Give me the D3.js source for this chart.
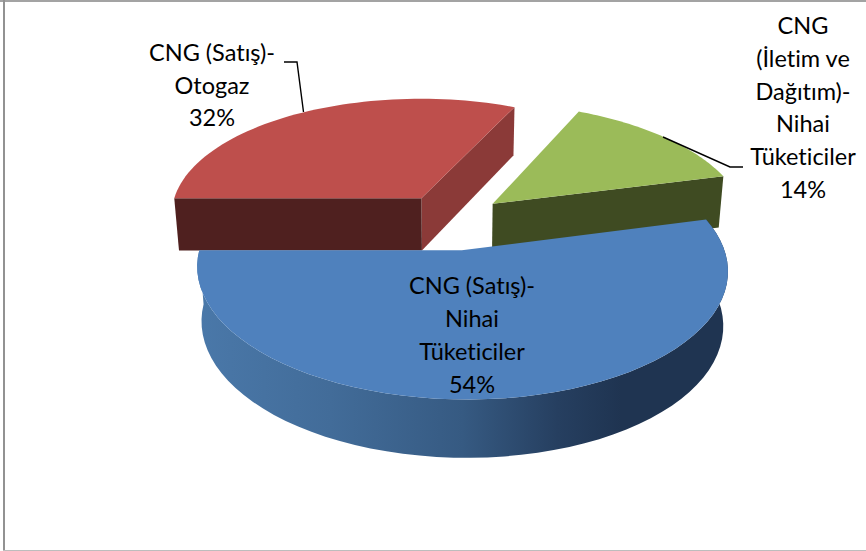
<!DOCTYPE html>
<html><head><meta charset="utf-8">
<script src="https://cdnjs.cloudflare.com/ajax/libs/d3/7.8.5/d3.min.js"></script>
<style>html,body{margin:0;padding:0;background:#fff;overflow:hidden}svg{display:block}text{font-family:Lato,"Open Sans",sans-serif;font-size:23.5px;fill:#000;text-anchor:middle;font-variant-ligatures:none;font-feature-settings:"liga" 0}</style>
</head><body><svg id="c" width="866" height="551"></svg>
<script>
const categories = ["CNG (Satış)-Nihai Tüketiciler","CNG (Satış)-Otogaz","CNG (İletim ve Dağıtım)-Nihai Tüketiciler"];
const values = [54,32,14];
const topColors = ["#4f81bd","#be4f4c","#9bbb59"];
const labelLines = [
  ["CNG (Satış)-","Nihai","Tüketiciler","54%"],
  ["CNG (Satış)-","Otogaz","32%"],
  ["CNG","(İletim ve","Dağıtım)-","Nihai","Tüketiciler","14%"]
];
const labelX = [472,212,803];
const labelY = [294,61,34];
const labelStep = [33,32.5,32.8];

const W=866,H=551;
const svg=d3.select("#c");
// projection of the tilted pie
const Cx=452,Cy=221.4,R=254,A=119.5,P=0.14,K=4,EXPLODE_U=0.21,EXPLODE_V=0.235;
const sliceNudge=[2,-2,1];
const rotation=75.6*Math.PI/180;
const pie=d3.pie().sort(null).startAngle(rotation).endAngle(rotation+2*Math.PI);
const arcs=pie(values);
const sx=d3.scaleLinear().domain([-1,1]).range([Cx-R,Cx+R]);
const sy=d3.scaleLinear().domain([-1,1]).range([Cy-A,Cy+A]);
function world(a,th,r){
  const mid=(a.startAngle+a.endAngle)/2;
  return {u:EXPLODE_U*Math.sin(mid)+r*Math.sin(th), v:-EXPLODE_V*Math.cos(mid)-r*Math.cos(th), n:sliceNudge[a.index]};
}
function proj(p,low){
  const s=1/(1-P*p.v);
  let x=sx(p.u*s)+K*p.v+p.n, y=sy(p.v*s);
  if(low){ x=Cx+(x-Cx)*0.983; y+=53+4.3*p.v; }
  return [x,y];
}
const line=d3.line();
const sweep=(a,t0,t1,low)=>d3.range(0,61).map(i=>proj(world(a,t0+(t1-t0)*i/60,1),low));
const apex=(a,low)=>proj(world(a,0,0),low);
function wall(a,th){ return line([apex(a,false),proj(world(a,th,1),false),proj(world(a,th,1),true),apex(a,true)])+"Z"; }

const defs=svg.append("defs");
const grad=defs.append("linearGradient").attr("id","rim").attr("gradientUnits","userSpaceOnUse")
  .attr("x1",198).attr("x2",727).attr("y1",0).attr("y2",0);
[[0,"#4a78a9"],[0.25,"#426c99"],[0.5,"#365a82"],[0.68,"#263f60"],[0.8,"#1f3451"],[1,"#1f3451"]]
  .forEach(s=>grad.append("stop").attr("offset",s[0]).attr("stop-color",s[1]));

// frame
svg.append("rect").attr("width",W).attr("height",2).attr("fill","#a3a3a3");
svg.append("rect").attr("x",3).attr("width",2).attr("height",H).attr("fill","#929292");
svg.append("rect").attr("x",3).attr("y",H-1).attr("width",W).attr("height",1).attr("fill","#bdbdbd");

// red
const red=arcs[1], green=arcs[2], blue=arcs[0];
svg.append("path").attr("d",wall(red,red.endAngle)).attr("fill","#8b3a38");
svg.append("path").attr("d",wall(red,red.startAngle)).attr("fill","#4f201f");
svg.append("path").attr("d",line([apex(red,false),...sweep(red,red.startAngle,red.endAngle,false)])+"Z").attr("fill",topColors[1]);
// green
svg.append("path").attr("d",wall(green,green.endAngle)).attr("fill","#3f4b22");
svg.append("path").attr("d",line([apex(green,false),...sweep(green,green.startAngle,green.endAngle,false)])+"Z").attr("fill",topColors[2]);
// blue
svg.append("path").attr("d",line([...sweep(blue,blue.startAngle,blue.endAngle,false),...sweep(blue,blue.startAngle,blue.endAngle,true).reverse()])+"Z").attr("fill","url(#rim)");
svg.append("path").attr("d",line([apex(blue,false),...sweep(blue,blue.startAngle,blue.endAngle,false)])+"Z").attr("fill",topColors[0]);

// leader lines
const leaderRed=[[284,62],[297,62],[303.5,112]];
const leaderGreen=[[663,137],[730,167],[743,167]];
[leaderRed,leaderGreen].forEach(l=>svg.append("path").attr("d",line(l)).attr("fill","none").attr("stroke","#000").attr("stroke-width",1.4));

// labels
labelLines.forEach((ls,i)=>{
  const t=svg.append("text");
  ls.forEach((s,j)=>t.append("tspan").attr("x",labelX[i]).attr("y",labelY[i]+j*labelStep[i]).text(s));
});
</script></body></html>
